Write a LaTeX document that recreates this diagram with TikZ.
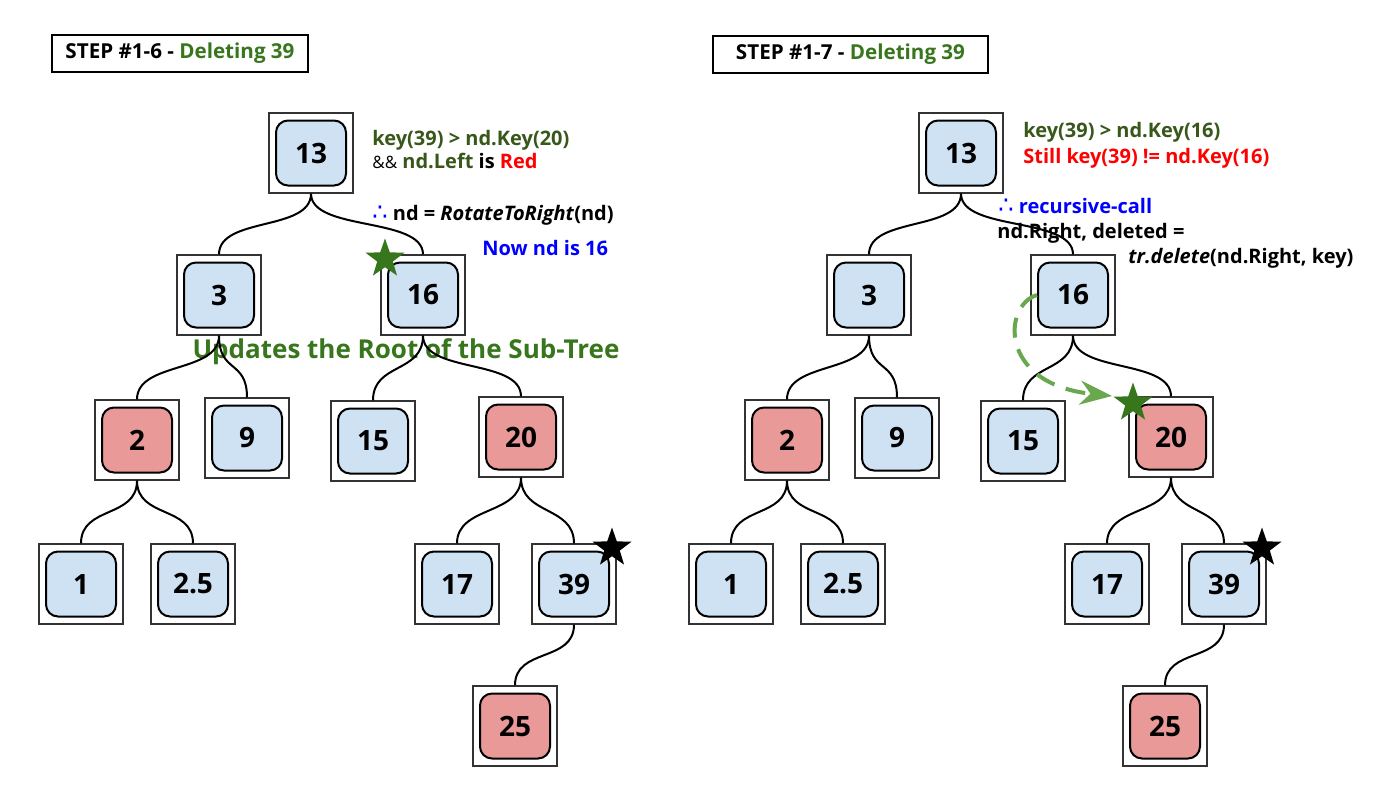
\documentclass[tikz,border=0pt]{standalone}
\usepackage{fontspec}
\setmainfont{Open Sans}
\newfontfamily\symfont{DejaVu Sans}
\usetikzlibrary{shapes.geometric,arrows.meta}

\definecolor{nodeblue}{HTML}{CFE2F3}
\definecolor{nodered}{HTML}{EA9999}
\definecolor{keygreen}{HTML}{38571A}
\definecolor{titlegreen}{HTML}{38761D}
\definecolor{pathgreen}{HTML}{6AA84F}
\definecolor{callblue}{HTML}{0000FF}
\definecolor{warnred}{HTML}{FF0000}

% one tree node: white frame with a rounded key box inside
\newcommand\bstnode[5]{%
  \node[outerbox] (#1) at (#2,#3) {};
  \node[innerbox, fill=#4] (#1i) at (#1.center) {#5};}
% parent-to-child link
\newcommand\treelink[2]{%
  \draw[treeedge] (#1.south) .. controls +(0,38) and +(0,-38) .. (#2.north);}
% "therefore" sign
\newcommand\thussign{{\symfont\mdseries\fontsize{12}{12}\selectfont ∴}}

\tikzset{
  outerbox/.style={draw=black!80, line width=0.6pt, fill=white,
    minimum width=42pt, minimum height=40pt, inner sep=0},
  innerbox/.style={draw=black, line width=1pt, rounded corners=6pt,
    minimum width=35pt, minimum height=32.5pt, inner sep=0,
    font=\fontsize{14}{16}\selectfont\bfseries},
  treeedge/.style={draw=black, line width=1pt},
  titlebox/.style={draw=black, line width=1pt, fill=white, inner sep=0,
    minimum height=18.5pt, font=\fontsize{10.3}{12}\selectfont\bfseries},
  note/.style={inner sep=0, anchor=base west,
    font=\fontsize{10}{12}\selectfont\bfseries},
  markstar/.style={star, star points=5, star point ratio=2.5,
    minimum size=20.5pt, inner sep=0, draw=none},
}

\begin{document}
\begin{tikzpicture}[x=0.5pt,y=-0.5pt]
\useasboundingbox[fill=white] (0,0) rectangle (1387,811);

% ---------------- left panel: step 1-6 ----------------
\node[titlebox, minimum width=128pt] (titleL) at (180,53.5)
  {STEP \#1-6 - \textcolor{titlegreen}{Deleting 39}};

\bstnode{L13}{311}{153}{nodeblue}{13}
\bstnode{L3}{219}{295}{nodeblue}{3}
\bstnode{L16}{423}{295}{nodeblue}{16}
\bstnode{L2}{137}{440}{nodered}{2}
\bstnode{L9}{247}{438}{nodeblue}{9}
\bstnode{L15}{373}{441}{nodeblue}{15}
\bstnode{L20}{521}{437}{nodered}{20}
\bstnode{L1}{81}{584}{nodeblue}{1}
\bstnode{L2h}{193}{584}{nodeblue}{2.5}
\bstnode{L17}{457}{584}{nodeblue}{17}
\bstnode{L39}{574}{584}{nodeblue}{39}
\bstnode{L25}{515}{726}{nodered}{25}

\node[note] (noteL1) at (372,145) {\textcolor{keygreen}{key(39) > nd.Key(20)}};
\node[note] (noteL2) at (372,168) {{\mdseries\fontsize{8.5}{10}\selectfont\&\&}
  \textcolor{keygreen}{nd.Left} is \textcolor{warnred}{Red}};
\node[note] (noteL3) at (372,220) {\textcolor{callblue}{\thussign}\ nd =
  \textit{RotateToRight}(nd)};
\node[note] (noteL4) at (482,255) {\textcolor{callblue}{Now nd is 16}};
\node[inner sep=0, anchor=base, font=\fontsize{13}{15}\selectfont\bfseries,
  text=titlegreen] (noteL5) at (406,358) {Updates the Root of the Sub-Tree};

\treelink{L13}{L3}
\treelink{L13}{L16}
\treelink{L3}{L2}
\treelink{L3}{L9}
\treelink{L16}{L15}
\treelink{L16}{L20}
\treelink{L2}{L1}
\treelink{L2}{L2h}
\treelink{L20}{L17}
\treelink{L20}{L39}
\treelink{L39}{L25}

\node[markstar, fill=titlegreen] (starL16) at (385,259) {};
\node[markstar, fill=black] (starL39) at (612,548) {};

% ---------------- right panel: step 1-7 ----------------
\node[titlebox, minimum width=137.5pt] (titleR) at (850.5,54)
  {STEP \#1-7 - \textcolor{titlegreen}{Deleting 39}};

\bstnode{R13}{961}{153}{nodeblue}{13}
\bstnode{R3}{869}{295}{nodeblue}{3}
\bstnode{R16}{1073}{295}{nodeblue}{16}
\bstnode{R2}{787}{440}{nodered}{2}
\bstnode{R9}{897}{438}{nodeblue}{9}
\bstnode{R15}{1023}{441}{nodeblue}{15}
\bstnode{R20}{1171}{437}{nodered}{20}
\bstnode{R1}{731}{584}{nodeblue}{1}
\bstnode{R2h}{843}{584}{nodeblue}{2.5}
\bstnode{R17}{1107}{584}{nodeblue}{17}
\bstnode{R39}{1224}{584}{nodeblue}{39}
\bstnode{R25}{1165}{726}{nodered}{25}

\node[note] (noteR1) at (1023,137) {\textcolor{keygreen}{key(39) > nd.Key(16)}};
\node[note] (noteR2) at (1023,163) {\textcolor{warnred}{Still key(39) != nd.Key(16)}};
\node[note] (noteR3) at (998,213) {\textcolor{callblue}{\thussign\ recursive-call}};
\node[note] (noteR4) at (997,238) {nd.Right, deleted =};
\node[note] (noteR5) at (1128,263) {\textit{tr.delete}(nd.Right, key)};

\treelink{R13}{R3}
\treelink{R13}{R16}
\treelink{R3}{R2}
\treelink{R3}{R9}
\treelink{R16}{R15}
\treelink{R16}{R20}
\treelink{R2}{R1}
\treelink{R2}{R2h}
\treelink{R20}{R17}
\treelink{R20}{R39}
\treelink{R39}{R25}

% recursive call moves down to the right child
\coordinate (calltip) at (1112,396);
\draw[pathgreen, line width=2pt, dash pattern=on 10pt off 6pt,
  -{Stealth[length=16pt, width=12pt]}]
  (R16i.west) .. controls (1003,305) and (998,384) .. (calltip);

\node[markstar, fill=titlegreen] (starR20) at (1133,403) {};
\node[markstar, fill=black] (starR39) at (1262,548) {};
\end{tikzpicture}
\end{document}
